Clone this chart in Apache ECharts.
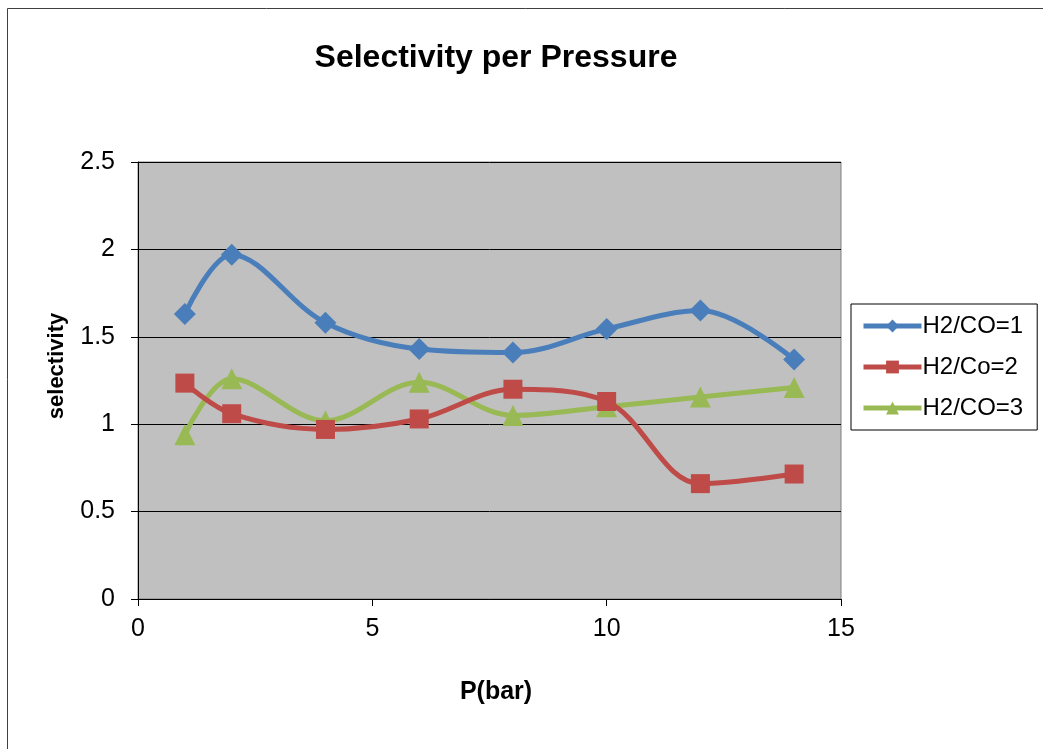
<!DOCTYPE html>
<html>
<head>
<meta charset="utf-8">
<script src="https://cdn.jsdelivr.net/npm/echarts@6/dist/echarts.min.js"></script>
<style>
  html, body { margin: 0; padding: 0; background: #fff; }
  #chart { width: 1043px; height: 749px; }
</style>
</head>
<body>
<div id="chart"></div>
<script>
// Pressure (bar) at which selectivity was measured
const pressure = [1, 2, 4, 6, 8, 10, 12, 14];

// Selectivity for each H2/CO feed ratio
const ratio1 = [1.63, 1.97, 1.58, 1.43, 1.41, 1.545, 1.65, 1.37];
const ratio2 = [1.235, 1.06, 0.97, 1.03, 1.20, 1.13, 0.66, 0.715];
const ratio3 = [0.94, 1.26, 1.02, 1.24, 1.05, 1.10, 1.155, 1.21];

const seriesNames = ['H2/CO=1', 'H2/Co=2', 'H2/CO=3'];
const xTicks = [0, 5, 10, 15];
const yTicks = [0, 0.5, 1, 1.5, 2, 2.5];

const FONT = '"Liberation Sans", Arial, sans-serif';
const colors = ['#4A7EBB', '#BE4B48', '#98B954'];
const symbols = ['diamond', 'rect', 'triangle'];
const sizes = [22, 19, 21];

const pairs = v => pressure.map((p, i) => [p, v[i]]);
const values = [ratio1, ratio2, ratio3];

const chart = echarts.init(document.getElementById('chart'), null, { renderer: 'canvas' });

chart.setOption({
  animation: false,
  backgroundColor: '#ffffff',
  textStyle: { fontFamily: FONT },
  title: {
    text: 'Selectivity per Pressure',
    left: 491, top: 37, textAlign: 'center',
    textStyle: { fontFamily: FONT, fontSize: 32, fontWeight: 'bold', color: '#000' }
  },
  graphic: [
    { type: 'rect', shape: { x: 7.5, y: 8.5, width: 1100, height: 800 },
      style: { fill: null, stroke: '#404040', lineWidth: 1 }, silent: true },
    { type: 'text', x: 496, y: 692,
      style: { text: 'P(bar)', font: 'bold 25px ' + FONT, fill: '#000',
               align: 'center', verticalAlign: 'middle' } },
    { type: 'text', x: 57, y: 366, rotation: Math.PI / 2,
      style: { text: 'selectivity', font: 'bold 22px ' + FONT, fill: '#000',
               align: 'center', verticalAlign: 'middle' } }
  ],
  legend: {
    orient: 'vertical',
    left: 851, top: 304,
    width: 184,
    padding: [10, 14, 10, 10],
    itemGap: 17,
    itemWidth: 58, itemHeight: 16,
    borderColor: '#000', borderWidth: 1,
    backgroundColor: '#fff',
    lineStyle: { width: 5 },
    textStyle: { fontFamily: FONT, fontSize: 24, color: '#000', padding: [0, 0, 0, -4] },
    data: seriesNames
  },
  grid: {
    left: 138, top: 162, width: 703, height: 437,
    show: true, backgroundColor: '#C0C0C0', borderColor: '#808080', borderWidth: 1,
    containLabel: false
  },
  xAxis: {
    type: 'value', min: 0, max: 15, interval: 5,
    axisLine: { show: true, onZero: false, lineStyle: { color: '#000', width: 1 } },
    axisTick: { show: true, inside: false, length: 7, lineStyle: { color: '#000' } },
    axisLabel: {
      fontFamily: FONT, fontSize: 25, color: '#000', margin: 18,
      formatter: v => xTicks.includes(v) ? String(v) : ''
    },
    splitLine: { show: false }
  },
  yAxis: {
    type: 'value', min: 0, max: 2.5, interval: 0.5,
    axisLine: { show: true, lineStyle: { color: '#000', width: 1 } },
    axisTick: { show: true, inside: false, length: 7, lineStyle: { color: '#000' } },
    axisLabel: {
      fontFamily: FONT, fontSize: 25, color: '#000', margin: 23,
      formatter: v => yTicks.includes(v) ? String(v) : ''
    },
    splitLine: { show: true, lineStyle: { color: '#000', width: 1 } }
  },
  series: seriesNames.map((name, i) => ({
    name,
    type: 'line',
    data: pairs(values[i]),
    smooth: 0.35,
    symbol: symbols[i],
    symbolSize: sizes[i],
    showAllSymbol: true,
    lineStyle: { color: colors[i], width: 5 },
    itemStyle: { color: colors[i] },
    z: 3 - i
  }))
});
</script>
</body>
</html>
